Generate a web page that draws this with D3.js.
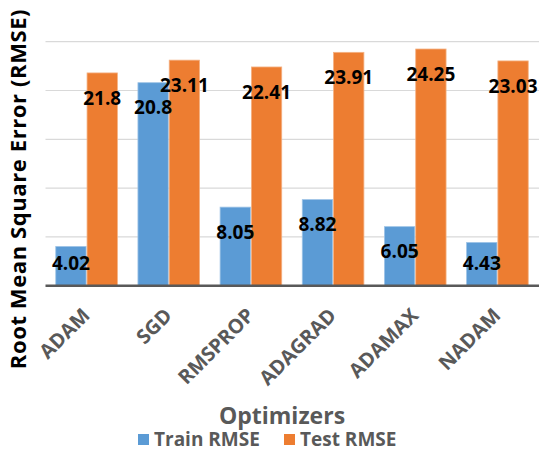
<!DOCTYPE html>
<html>
<head>
<meta charset="utf-8">
<script src="https://cdn.jsdelivr.net/npm/d3@7"></script>
<style>
  html, body { margin: 0; padding: 0; background: #fff; }
  svg { display: block; }
  text { font-family: "Open Sans", sans-serif; font-weight: bold; }
</style>
</head>
<body>
<svg id="chart" width="539" height="452"></svg>
<script>
// Optimizer comparison: train vs test RMSE
const optimizers = ["ADAM", "SGD", "RMSPROP", "ADAGRAD", "ADAMAX", "NADAM"];
const trainRMSE = [4.02, 20.8, 8.05, 8.82, 6.05, 4.43];
const testRMSE = [21.8, 23.11, 22.41, 23.91, 24.25, 23.03];
const seriesNames = ["Train RMSE", "Test RMSE"];
const yTicks = [0, 5, 10, 15, 20, 25];

const colors = { "Train RMSE": "#5B9BD5", "Test RMSE": "#ED7D31" };
const edgeColors = { "Train RMSE": "#9DC3E6", "Test RMSE": "#F4B183" };

const rows = optimizers.map((name, i) => ({
  name,
  values: [
    { series: seriesNames[0], value: trainRMSE[i] },
    { series: seriesNames[1], value: testRMSE[i] }
  ]
}));

const svg = d3.select("#chart");
const W = 539, H = 452;
const margin = { top: 41.7, left: 45.5, right: 0.5, bottom: H - 285.7 };

const x = d3.scaleBand()
  .domain(optimizers)
  .range([margin.left, W - margin.right])
  .paddingInner(0.25)
  .paddingOuter(0.125);

const xInner = d3.scaleBand()
  .domain(seriesNames)
  .range([0, x.bandwidth()])
  .paddingInner(0.03);

const y = d3.scaleLinear()
  .domain([0, 25])
  .range([H - margin.bottom, margin.top]);

// horizontal gridlines
svg.append("g")
  .selectAll("line")
  .data(yTicks.slice(1))
  .join("line")
  .attr("x1", margin.left)
  .attr("x2", W)
  .attr("y1", d => y(d))
  .attr("y2", d => y(d))
  .attr("stroke", "#D9D9D9")
  .attr("stroke-width", 1.2);

// bars
const groups = svg.append("g")
  .selectAll("g")
  .data(rows)
  .join("g")
  .attr("transform", d => `translate(${x(d.name)},0)`);

groups.selectAll("rect")
  .data(d => d.values)
  .join("rect")
  .attr("x", d => xInner(d.series))
  .attr("y", d => y(d.value))
  .attr("width", xInner.bandwidth())
  .attr("height", d => y(0) - y(d.value))
  .attr("fill", d => colors[d.series])
  .attr("stroke", d => edgeColors[d.series])
  .attr("stroke-width", 0.8);

// baseline axis with slanted category names
const xAxis = svg.append("g")
  .attr("transform", `translate(0,${y(0)})`)
  .call(d3.axisBottom(x).tickSize(0).tickSizeOuter(0).tickPadding(0));
xAxis.select(".domain")
  .attr("stroke", "#595959")
  .attr("stroke-width", 2.5)
  .attr("d", `M${margin.left},0H${W}`);
xAxis.selectAll(".tick text")
  .attr("fill", "#595959")
  .style("font-size", "20px")
  .style("font-family", "'Open Sans', sans-serif")
  .style("font-weight", "bold")
  .attr("text-anchor", "end")
  .attr("y", 0)
  .attr("dy", 0)
  .attr("transform", "translate(4.5,31) rotate(-45)");

// value labels
const labelFloor = y(0) - 22;
groups.selectAll("text.value")
  .data(d => d.values)
  .join("text")
  .attr("class", "value")
  .attr("x", d => xInner(d.series) + xInner.bandwidth() / 2)
  .attr("y", d => Math.min(y(d.value) + 25, labelFloor))
  .attr("dy", "0.35em")
  .attr("text-anchor", "middle")
  .attr("fill", "#000")
  .style("font-size", "19px")
  .text(d => d.value);

// axis titles
svg.append("text")
  .attr("transform", `translate(26,189) rotate(-90)`)
  .attr("text-anchor", "middle")
  .attr("fill", "#000")
  .style("font-size", "22px")
  .style("letter-spacing", "0.6px")
  .text("Root Mean Square Error (RMSE)");

svg.append("text")
  .attr("x", 282)
  .attr("y", 424)
  .attr("text-anchor", "middle")
  .attr("fill", "#595959")
  .style("font-size", "23px")
  .text("Optimizers");

// legend
const legend = svg.append("g").attr("transform", "translate(138,439)");
const legendX = [0, 146];
seriesNames.forEach((s, i) => {
  const g = legend.append("g").attr("transform", `translate(${legendX[i]},0)`);
  g.append("rect")
    .attr("x", 0).attr("y", -5)
    .attr("width", 11).attr("height", 11)
    .attr("fill", colors[s]);
  g.append("text")
    .attr("x", 16).attr("y", 0).attr("dy", "0.35em")
    .attr("fill", "#595959")
    .style("font-size", "19px")
    .text(s);
});
</script>
</body>
</html>
